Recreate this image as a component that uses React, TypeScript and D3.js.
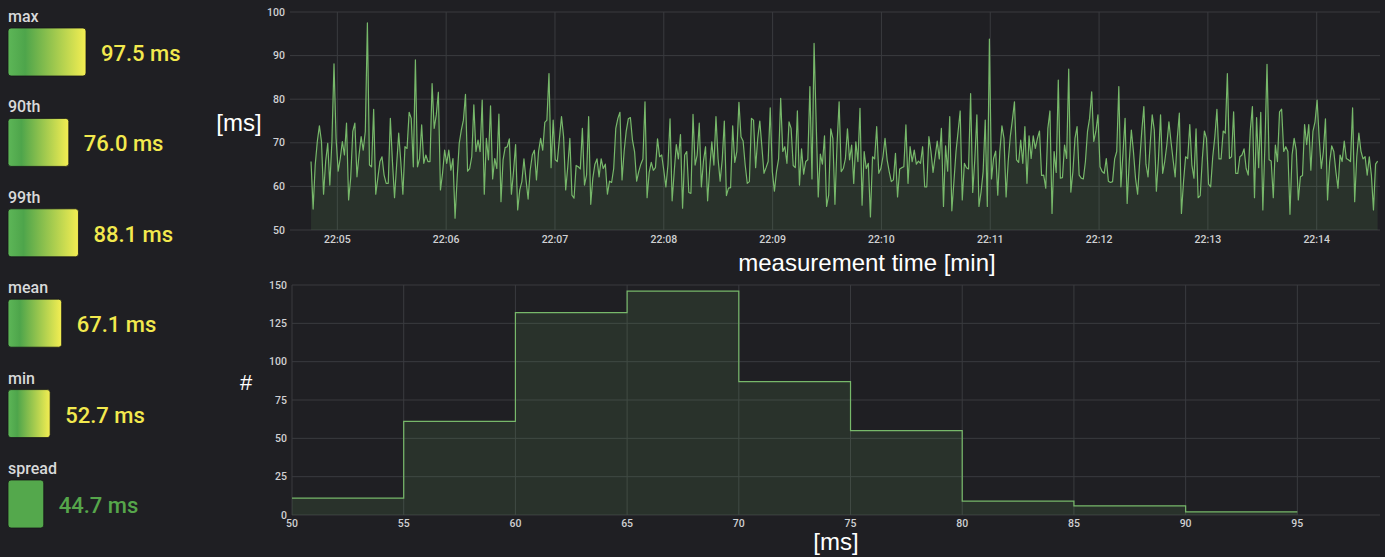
import React from "react";
import * as d3 from "d3";

// ---- stat panel data ----
const statLabels = ["max", "90th", "99th", "mean", "min", "spread"];
const statValues = [97.5, 76.0, 88.1, 67.1, 52.7, 44.7];
const statIsHigh = [true, true, true, true, true, false];

// ---- histogram data ----
const binStarts = [50, 55, 60, 65, 70, 75, 80, 85, 90];
const binCounts = [11, 61, 132, 146, 87, 55, 9, 6, 2];
const binWidth = 5;
const histTicks = [50, 55, 60, 65, 70, 75, 80, 85, 90, 95];
const countTicks = [0, 25, 50, 75, 100, 125, 150];

// ---- latency time series (ms), sampled evenly from 22:04:45.5 to 22:14:33.6 ----
const latencyA = [65.7, 54.8, 64.9, 70.3, 73.9, 70.3, 58.2, 65.7, 69.9, 60.3, 70.3, 88.1, 71, 63.5, 66.4, 70.3, 67.2, 74.5, 56.9, 61.9, 72.6, 74.5, 62.2, 67.2, 71.4, 68.3, 72.6, 97.5, 64.9, 64.5, 77.7, 58.2, 61.9, 65.7, 66.8, 62.6, 60.7, 60.7, 75.6, 65.7, 57.4, 64.9, 72.2, 65.7, 58.2, 69.1, 68.7, 77, 75.6, 64.5, 89, 64.5, 66.4, 74.1, 65.3, 67.2, 65.7, 65.7, 83.6, 73.3, 76.4, 81.6, 59.2, 63, 68.3, 65.3, 68.3, 63.7, 66.4, 52.7, 61.9];
const latencyB = [69.9, 72.9, 75.2, 81.1, 63.5, 64.1, 66.8, 78.7, 68, 70.6, 68, 79.8, 58.2, 71, 66.1, 78.5, 61.7, 66.4, 64.1, 76.6, 56.5, 66.1, 68.9, 69.1, 70.9, 58.2, 63.4, 69.6, 54.6, 59.2, 61.1, 66.3, 61.5, 57.1, 63.7, 67.2, 68.3, 61.5, 68, 71, 68.3, 74.7, 75.2, 85.9, 64.3, 75.2, 66.1, 65.7, 71, 76, 71.4, 59.2, 64.5, 71, 58, 57.3, 64.8, 64.5, 64, 73.3, 60.3, 62.6, 76, 55.9, 61.9, 65.1, 66.3, 62.2, 66.3, 64.1, 65.1, 58.2, 61.2, 60.9];
const latencyC = [64.1, 73.3, 75.6, 77, 61.5, 68, 72.7, 75.5, 75.8, 70.6, 68, 61.2, 63.4, 65.1, 66.3, 79.4, 57.4, 63.2, 65.5, 63.7, 64.3, 70.9, 66.8, 67.2, 63.7, 59.9, 64.9, 75.5, 56.7, 63.4, 69.6, 66.3, 71.9, 55, 67.2, 68, 58.6, 58.4, 76.5, 64.9, 67.2, 74.5, 59.9, 65.8, 69.1, 56.7, 64.1, 70.2, 64.9, 76, 66.4, 61.2, 66.1, 75, 57.9, 59.6, 59.7, 73.9, 65.5, 68, 79.3, 71.4, 70.4, 64.9, 60.7, 61.1, 75.6, 75.2, 64.3, 71, 75, 69.1, 63, 64.3];
const latencyD = [65.7, 78, 63.4, 58.9, 63.4, 66.3, 80.2, 68, 69.1, 65.3, 74.8, 73.3, 64.8, 64.3, 77.3, 60.3, 68.6, 62.8, 65.7, 66.1, 82.9, 61.7, 92.8, 74.8, 57.6, 67.4, 65.1, 71.6, 55.4, 58, 73.2, 71, 55.9, 69.6, 79.4, 63.4, 64.1, 66.3, 73.2, 66.1, 69.5, 60.7, 70.2, 65.7, 77.9, 55.7, 68, 64.1, 65.3, 53, 66.8, 66.3, 73.7, 63, 64.1, 66.8, 71, 66.1, 63.4, 61.1, 61.5, 67.6, 57.6, 64, 64.3, 64.5, 74.1, 60.7, 69.1, 65.7, 68.3, 65.1, 65.8];
const latencyE = [65.3, 69.1, 59.9, 59.9, 71.4, 68, 63.2, 66.8, 70.4, 66.3, 73.3, 55.4, 69.3, 63.5, 76, 54.4, 61.1, 68, 72.6, 77.3, 56.9, 65.3, 64.3, 64, 81.3, 58.6, 66.1, 76.4, 55.4, 58.7, 63.4, 75.2, 55.4, 93.8, 61.7, 66.4, 68.1, 58, 68, 73.9, 71, 57.6, 65.7, 71.4, 75.2, 79.4, 66.1, 65.5, 70.6, 65.3, 73.7, 60.7, 71.6, 66.4, 71.6, 68.7, 71, 72.7, 62.5, 62.6, 59.6, 73.3, 77.3, 53.8, 68, 63.2, 84.4, 61.9, 62, 69.5, 66.4, 86.9, 58.7, 63.4, 71];
const latencyF = [73.7, 62.6, 61.9, 61.7, 65.7, 72.6, 75.6, 81.7, 70.3, 72.6, 76.4, 64.5, 63.4, 63, 66.4, 61.2, 60.9, 61.1, 66.3, 68, 82.9, 59.9, 67.6, 75.6, 56.1, 65.7, 72.9, 68, 61.9, 58.2, 65.7, 72.7, 78.3, 65.1, 62.2, 69.5, 76.4, 72.9, 58.9, 66.4, 76.4, 63, 65.7, 69.5, 74.8, 70.3, 66.1, 62.2, 71, 76.8, 53.8, 61.1, 66.8, 66.4, 74.2, 64.9, 61.9, 73.2, 57.4, 57.9, 66.3, 72.7, 71, 60.5, 59.9, 66.8, 71.4, 77.7, 66.3, 66.3, 72.7, 72.2, 85.9, 66.4, 66.8];
const latencyG = [77.1, 63, 63, 66.8, 67.2, 68.6, 64.1, 62.6, 72.9, 78.3, 57.4, 75.8, 64.3, 77, 54.6, 69.5, 88, 66.1, 65.8, 57.4, 69.5, 65.7, 77.1, 77.7, 68, 69.1, 68, 53.6, 67.2, 71, 68.3, 56.9, 62.2, 62.5, 74.2, 69.6, 74.2, 63.7, 72.6, 74.8, 79.8, 71, 64.1, 68, 75.5, 56.9, 65.5, 69.3, 68, 63.4, 59.6, 67.2, 65.7, 70.4, 66.4, 66.1, 65.7, 78, 56.5, 66.8, 72.2, 68.1, 66.3, 66.8, 62.6, 66.8, 62.6, 54.6, 65.1, 65.8];
const latency = [...latencyA, ...latencyB, ...latencyC, ...latencyD, ...latencyE, ...latencyF, ...latencyG];
const msTicks = [50, 60, 70, 80, 90, 100];

const W = 1385;
const H = 557;
const BG = "#1f1f23";
const GRID = "#3a3b3f";
const TICK = "#cfd0d2";
const LINE = "#77b86a";
const FILL = "rgba(115,191,105,0.12)";

export default function App() {
  // ---- time series scales ----
  const tStart = new Date(2020, 0, 1, 22, 4, 45, 500);
  const tEnd = new Date(2020, 0, 1, 22, 14, 33, 600);
  const step = (tEnd.getTime() - tStart.getTime()) / (latency.length - 1);
  const series = latency.map((v, i) => ({ t: new Date(tStart.getTime() + i * step), v }));

  const xT = d3
    .scaleTime()
    .domain([new Date(2020, 0, 1, 22, 4, 33, 900), new Date(2020, 0, 1, 22, 14, 34, 900)])
    .range([290, 1380]);
  const yT = d3.scaleLinear().domain([50, 100]).range([230, 12]);
  const timeTicks = xT.ticks(d3.timeMinute.every(1) as any);
  const fmt = d3.timeFormat("%H:%M");

  const lineGen = d3
    .line<{ t: Date; v: number }>()
    .x((d) => xT(d.t))
    .y((d) => yT(d.v));
  const areaGen = d3
    .area<{ t: Date; v: number }>()
    .x((d) => xT(d.t))
    .y0(yT(50))
    .y1((d) => yT(d.v));

  // ---- histogram scales ----
  const xH = d3.scaleLinear().domain([50, 98.7]).range([292, 1380]);
  const yH = d3.scaleLinear().domain([0, 150]).range([515, 285]);
  const histPts = binStarts.map((b, i) => ({ x: b, c: binCounts[i] }));
  histPts.push({ x: binStarts[binStarts.length - 1] + binWidth, c: binCounts[binCounts.length - 1] });
  const stepLine = d3
    .line<{ x: number; c: number }>()
    .x((d) => xH(d.x))
    .y((d) => yH(d.c))
    .curve(d3.curveStepAfter);
  const stepArea = d3
    .area<{ x: number; c: number }>()
    .x((d) => xH(d.x))
    .y0(yH(0))
    .y1((d) => yH(d.c))
    .curve(d3.curveStepAfter);

  // ---- stat bars ----
  const barW = d3.scaleLinear().domain([0, 100]).range([0, 80]);
  const rowY = d3.scaleLinear().domain([0, 5]).range([28, 480]);

  return (
    <div style={{ position: "fixed", left: 0, top: 0, width: W, height: H, background: BG }}>
      <svg width={W} height={H} style={{ display: "block" }}>
        <defs>
          <linearGradient id="gy" x1="0" x2="1" y1="0" y2="0">
            <stop offset="0%" stopColor="#5db657" />
            <stop offset="22%" stopColor="#4ea54b" />
            <stop offset="100%" stopColor="#f4ee52" />
          </linearGradient>
        </defs>
        <rect width={W} height={H} fill={BG} />

        {/* ===== stat panel ===== */}
        {statLabels.map((lab, i) => {
          const top = rowY(i);
          const w = barW(statValues[i]);
          const col = statIsHigh[i] ? "#f2e94e" : "#56a64b";
          return (
            <g key={lab}>
              <text x={8} y={top - 6} fontFamily="Roboto, sans-serif" fontWeight={500} fontSize={16} fill="#d8d9da">
                {lab}
              </text>
              <rect
                x={8}
                y={top}
                width={w}
                height={48}
                rx={3}
                fill={statIsHigh[i] ? "url(#gy)" : "#54a84c"}
                stroke="#161618"
                strokeWidth={0.8}
              />
              <text
                x={8 + w + 15}
                y={top + 33}
                fontFamily="Roboto, sans-serif"
                fontWeight={500}
                fontSize={22}
                fill={col}
              >
                {statValues[i].toFixed(1)} ms
              </text>
            </g>
          );
        })}

        {/* ===== top time-series ===== */}
        {msTicks.map((v) => (
          <g key={"ym" + v}>
            <line x1={290} x2={1380} y1={yT(v)} y2={yT(v)} stroke={GRID} strokeWidth={1} />
            <text
              x={285}
              y={yT(v) + 3.5}
              textAnchor="end"
              fontFamily="Roboto, sans-serif"
              fontWeight={500}
              fontSize={10.5}
              fill={TICK}
            >
              {v}
            </text>
          </g>
        ))}
        {timeTicks.map((t) => (
          <g key={"xt" + t.getTime()}>
            <line x1={xT(t)} x2={xT(t)} y1={12} y2={230} stroke={GRID} strokeWidth={1} />
            <text
              x={xT(t)}
              y={243}
              textAnchor="middle"
              fontFamily="Roboto, sans-serif"
              fontWeight={500}
              fontSize={10.5}
              fill={TICK}
            >
              {fmt(t)}
            </text>
          </g>
        ))}
        <path d={areaGen(series) || ""} fill={FILL} />
        <path d={lineGen(series) || ""} fill="none" stroke={LINE} strokeWidth={1.2} strokeLinejoin="round" />
        <text x={239} y={131} textAnchor="middle" fontFamily="'Liberation Sans', Arial, sans-serif" fontSize={24} fill="#ffffff">
          [ms]
        </text>
        <text x={867} y={271} textAnchor="middle" fontFamily="'Liberation Sans', Arial, sans-serif" fontSize={24} fill="#ffffff">
          measurement time [min]
        </text>

        {/* ===== histogram ===== */}
        {countTicks.map((v) => (
          <g key={"yc" + v}>
            <line x1={292} x2={1380} y1={yH(v)} y2={yH(v)} stroke={GRID} strokeWidth={1} />
            <text
              x={287}
              y={yH(v) + 3.5}
              textAnchor="end"
              fontFamily="Roboto, sans-serif"
              fontWeight={500}
              fontSize={10.5}
              fill={TICK}
            >
              {v}
            </text>
          </g>
        ))}
        {histTicks.map((v) => (
          <g key={"xh" + v}>
            <line x1={xH(v)} x2={xH(v)} y1={285} y2={515} stroke={GRID} strokeWidth={1} />
            <text
              x={xH(v)}
              y={527}
              textAnchor="middle"
              fontFamily="Roboto, sans-serif"
              fontWeight={500}
              fontSize={10.5}
              fill={TICK}
            >
              {v}
            </text>
          </g>
        ))}
        <path d={stepArea(histPts) || ""} fill={FILL} />
        <path d={stepLine(histPts) || ""} fill="none" stroke={LINE} strokeWidth={1.2} />
        <text x={246} y={390} textAnchor="middle" fontFamily="'Liberation Sans', Arial, sans-serif" fontSize={22} fill="#ffffff">
          #
        </text>
        <text x={836} y={550} textAnchor="middle" fontFamily="'Liberation Sans', Arial, sans-serif" fontSize={24} fill="#ffffff">
          [ms]
        </text>
      </svg>
    </div>
  );
}
